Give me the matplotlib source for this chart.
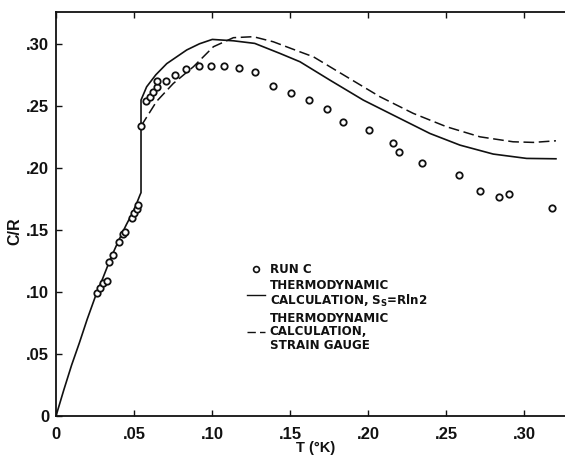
import matplotlib
matplotlib.use("Agg")
import matplotlib.pyplot as plt
from matplotlib.lines import Line2D

# ---- data ----
run_c_T = [0.0261, 0.0282, 0.0303, 0.0325, 0.0342, 0.0365, 0.0403, 0.0432, 0.0444,
           0.0485, 0.0502, 0.0517, 0.0528, 0.0545, 0.0575, 0.0600, 0.0625, 0.0650,
           0.0650, 0.0703, 0.0763, 0.0833, 0.0919, 0.0994, 0.1075, 0.1171, 0.1274,
           0.1391, 0.1506, 0.1622, 0.1737, 0.1842, 0.2009, 0.2158, 0.2197, 0.2348,
           0.2585, 0.2720, 0.2838, 0.2902, 0.3177]
run_c_CR = [0.0995, 0.1035, 0.1068, 0.1086, 0.1242, 0.1301, 0.1403, 0.1470, 0.1484,
            0.1592, 0.1637, 0.1665, 0.1700, 0.2336, 0.2535, 0.2573, 0.2610, 0.2648,
            0.2700, 0.2700, 0.2745, 0.2796, 0.2823, 0.2823, 0.2818, 0.2807, 0.2769,
            0.2659, 0.2600, 0.2548, 0.2471, 0.2369, 0.2304, 0.2197, 0.2124, 0.2043,
            0.1941, 0.1815, 0.1764, 0.1788, 0.1675]

calc_rln2_T = [0.0, 0.005, 0.010, 0.015, 0.020, 0.026, 0.030, 0.035, 0.040, 0.045,
               0.050, 0.0538, 0.0545, 0.0545, 0.0581, 0.064, 0.071, 0.0838, 0.092,
               0.1002, 0.1137, 0.1274, 0.1436, 0.1564, 0.1756, 0.197, 0.2184,
               0.2397, 0.259, 0.2803, 0.3017, 0.3205]
calc_rln2_CR = [0.0, 0.021, 0.041, 0.059, 0.078, 0.099, 0.111, 0.127, 0.141, 0.154,
                0.166, 0.178, 0.180, 0.2546, 0.2653, 0.275, 0.284, 0.295, 0.300,
                0.3035, 0.3024, 0.3003, 0.2922, 0.2855, 0.2707, 0.2546, 0.2411,
                0.2277, 0.2183, 0.2111, 0.2076, 0.2073]

calc_strain_T = [0.0545, 0.0645, 0.0752, 0.0881, 0.1009, 0.1137, 0.1265, 0.1393,
                 0.1564, 0.1650, 0.1863, 0.2077, 0.2290, 0.2504, 0.2718, 0.2930,
                 0.3060, 0.3205]
calc_strain_CR = [0.2336, 0.2536, 0.2680, 0.2815, 0.2976, 0.3049, 0.3057, 0.3016,
                  0.2935, 0.2895, 0.2734, 0.2573, 0.2439, 0.2331, 0.2250, 0.2210,
                  0.2205, 0.2218]

xticks = [0.0, 0.05, 0.10, 0.15, 0.20, 0.25, 0.30]
xticklabels = ["0", ".05", ".10", ".15", ".20", ".25", ".30"]
yticks = [0.0, 0.05, 0.10, 0.15, 0.20, 0.25, 0.30]
yticklabels = ["0", ".05", ".10", ".15", ".20", ".25", ".30"]

legend_labels = ["RUN C",
                 "THERMODYNAMIC\nCALCULATION, S$_\\mathregular{S}$=Rln2",
                 "THERMODYNAMIC\nCALCULATION,\nSTRAIN GAUGE"]

# ---- figure ----
plt.rcParams['font.family'] = ['Liberation Sans', 'DejaVu Sans']
plt.rcParams['mathtext.default'] = 'regular'

W, H = 565, 455
fig = plt.figure(figsize=(W / 100, H / 100), dpi=100)
ax = fig.add_axes([56 / W, (H - 416) / H, (W - 56) / W, (416 - 12) / H])

ink = '#111111'
ax.plot(calc_rln2_T, calc_rln2_CR, color=ink, lw=1.2, solid_joinstyle='round')
ax.plot(calc_strain_T, calc_strain_CR, color=ink, lw=1.1, dashes=(7, 3))
ax.plot(run_c_T, run_c_CR, linestyle='none', marker='o', markersize=4.6,
        markerfacecolor='white', markeredgecolor=ink, markeredgewidth=1.3)

ax.set_xlim(0, 0.3263)
ax.set_ylim(0, 0.3256)

ax.set_xticks(xticks)
ax.set_xticklabels(xticklabels, fontsize=12, fontweight='bold')
ax.set_yticks(yticks)
ax.set_yticklabels(yticklabels, fontsize=12, fontweight='bold')
ax.tick_params(axis='both', direction='in', length=4, width=1.0, color=ink,
               labelcolor=ink)
ax.tick_params(axis='x', top=True, pad=8)
ax.tick_params(axis='y', pad=5)

for s in ['left', 'bottom', 'top']:
    ax.spines[s].set_linewidth(1.3)
    ax.spines[s].set_color(ink)
ax.spines['right'].set_visible(False)

ax.set_xlabel("T (°K)", fontsize=10.5, fontweight='bold', color=ink)
ax.set_ylabel("C/R", fontsize=11.5, fontweight='bold', color=ink)
ax.xaxis.set_label_coords((316 - 56) / (W - 56), -(448 - 416) / 404, transform=ax.transAxes)
ax.yaxis.set_label_coords(-(56 - 15) / (W - 56), (416 - 231) / 404, transform=ax.transAxes)
ax.xaxis.label.set_va('center')
ax.yaxis.label.set_va('center')

handles = [
    Line2D([], [], linestyle='none', marker='o', markersize=4.2,
           markerfacecolor='white', markeredgecolor=ink, markeredgewidth=1.2),
    Line2D([], [], color=ink, lw=1.0),
    Line2D([], [], color=ink, lw=1.0, dashes=(6, 3)),
]
leg = ax.legend(handles, legend_labels, loc='upper left',
                bbox_to_anchor=((247 - 56) / (W - 56), (416 - 263) / 404),
                frameon=False, borderpad=0, borderaxespad=0,
                handlelength=1.5, handletextpad=0.4, labelspacing=0.25,
                prop={'family': 'DejaVu Sans', 'size': 8.6, 'weight': 'bold'})
for t in leg.get_texts():
    t.set_linespacing(1.05)
    t.set_color(ink)

fig.savefig("out.png", dpi=100, facecolor='white')
